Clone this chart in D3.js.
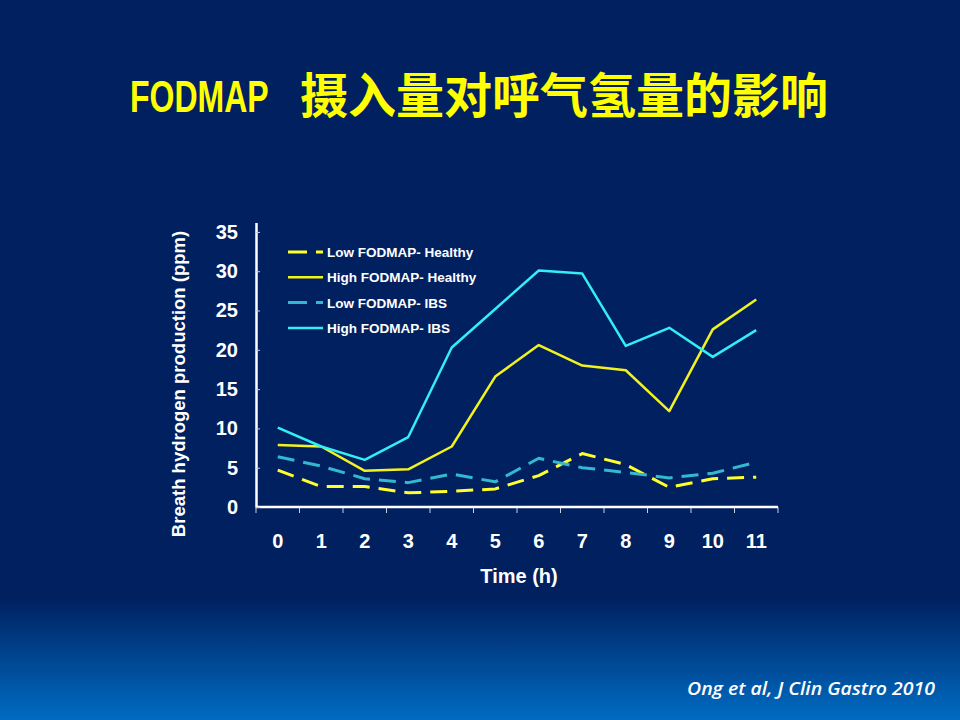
<!DOCTYPE html>
<html>
<head>
<meta charset="utf-8">
<script src="https://cdn.jsdelivr.net/npm/d3@7"></script>
<style>
    body{margin:0;padding:0;background:#002060;}
    svg{display:block;}
</style>
</head>
<body>
<svg id="slide"></svg>
<script>

//hours on the x axis
var hours = [0,1,2,3,4,5,6,7,8,9,10,11];

//breath hydrogen (ppm)
var lowHealthy  = [4.7,2.6,2.6,1.8,2.0,2.3,4.0,6.8,5.4,2.5,3.6,3.8];
var highHealthy = [7.9,7.7,4.6,4.8,7.7,16.6,20.6,18.0,17.4,12.2,22.6,26.4];
var lowIBS      = [6.4,5.2,3.6,3.1,4.2,3.2,6.2,5.0,4.4,3.7,4.3,5.7];
var highIBS     = [10.1,7.7,6.0,8.9,20.3,25.2,30.1,29.7,20.5,22.8,19.1,22.5];

var yTicks = [0,5,10,15,20,25,30,35];

var seriesNames = ["Low FODMAP- Healthy","High FODMAP- Healthy",
                   "Low FODMAP- IBS","High FODMAP- IBS"];

var titleLatin = "FODMAP";
var titleCJK = "摄入量对呼气氢量的影响";
var xTitle = "Time (h)";
var yTitle = "Breath hydrogen production (ppm)";
var citation = "Ong et al, J Clin Gastro 2010";

var series = [
    {name:seriesNames[0], values:lowHealthy,  color:"#ffff2e", dash:"17,9", width:3},
    {name:seriesNames[1], values:highHealthy, color:"#f2f21e", dash:null,   width:2.5},
    {name:seriesNames[2], values:lowIBS,      color:"#33b9cf", dash:"17,9", width:3},
    {name:seriesNames[3], values:highIBS,     color:"#33eef2", dash:null,   width:2.5}
];

var drawSlide = function(target)
{
    var screen = {width:960, height:720};

    var svg = d3.select(target)
        .attr("width",screen.width)
        .attr("height",screen.height);

    //background: navy with a blue fade at the bottom
    var defs = svg.append("defs");
    var grad = defs.append("linearGradient")
        .attr("id","bg")
        .attr("x1",0).attr("y1",0).attr("x2",0).attr("y2",1);
    grad.append("stop").attr("offset","0").attr("stop-color","#002060");
    grad.append("stop").attr("offset","0.83").attr("stop-color","#002060");
    grad.append("stop").attr("offset","1").attr("stop-color","#006cc2");

    svg.append("rect")
        .attr("width",screen.width)
        .attr("height",screen.height)
        .attr("fill","url(#bg)");

    //title: narrow tall latin part, then the chinese part
    svg.append("text")
        .attr("transform","translate(130,112) scale(1,1.38)")
        .attr("fill","#ffff00")
        .style("font-family","'Liberation Sans', Arial, sans-serif")
        .style("font-weight","bold")
        .style("font-size","32px")
        .text(titleLatin);

    svg.append("text")
        .attr("x",300)
        .attr("y",113)
        .attr("fill","#ffff00")
        .style("font-family","'Noto Sans CJK SC', sans-serif")
        .style("font-weight","bold")
        .style("font-size","48px")
        .text(titleCJK);

    //scales
    var xScale = d3.scaleBand()
        .domain(hours)
        .range([256,778])
        .padding(0);

    var yScale = d3.scaleLinear()
        .domain([0,36.2])
        .range([507,222.5]);

    //axes
    var xAxis = d3.axisBottom(xScale)
        .tickSize(0)
        .tickPadding(27);

    var yAxis = d3.axisLeft(yScale)
        .tickValues(yTicks)
        .tickSizeInner(-4)
        .tickSizeOuter(0)
        .tickPadding(18);

    var axes = svg.append("g").classed("axis",true);

    var gx = axes.append("g")
        .attr("id","xAxis")
        .attr("transform","translate(0,507)")
        .call(xAxis);
    gx.select(".domain").remove();

    //tick marks sit on the band edges
    var edges = hours.map(function(h){return xScale(h);});
    edges.push(xScale.range()[1]);
    gx.selectAll(".edge")
        .data(edges)
        .enter()
        .append("line")
        .classed("edge",true)
        .attr("x1",function(d){return d;})
        .attr("x2",function(d){return d;})
        .attr("y1",0)
        .attr("y2",6)
        .attr("stroke","#c8d0e0")
        .attr("stroke-width",1);
    gx.append("line")
        .attr("x1",xScale.range()[0])
        .attr("x2",xScale.range()[1])
        .attr("stroke","#ffffff")
        .attr("stroke-width",2.5);

    var gy = axes.append("g")
        .attr("id","yAxis")
        .attr("transform","translate(256,0)")
        .call(yAxis);

    axes.selectAll(".domain")
        .attr("stroke","#ffffff")
        .attr("stroke-width",2.5);
    axes.selectAll(".tick line")
        .attr("stroke","#c8d0e0");
    axes.selectAll(".tick text")
        .attr("fill","#ffffff")
        .style("font-family","'Liberation Sans', Arial, sans-serif")
        .style("font-weight","bold")
        .style("font-size","20px");

    //axis titles
    svg.append("text")
        .attr("x",519)
        .attr("y",583)
        .attr("text-anchor","middle")
        .attr("fill","#ffffff")
        .style("font-family","'Liberation Sans', Arial, sans-serif")
        .style("font-weight","bold")
        .style("font-size","20px")
        .text(xTitle);

    svg.append("text")
        .attr("transform","translate(185,384) rotate(-90)")
        .attr("text-anchor","middle")
        .attr("fill","#ffffff")
        .style("font-family","'Liberation Sans', Arial, sans-serif")
        .style("font-weight","bold")
        .style("font-size","18.5px")
        .text(yTitle);

    //lines
    var line = d3.line()
        .x(function(d,i){return xScale(hours[i]) + xScale.bandwidth()/2;})
        .y(function(d){return yScale(d);});

    svg.append("g")
        .classed("graph",true)
        .selectAll("path")
        .data(series)
        .enter()
        .append("path")
        .attr("d",function(s){return line(s.values);})
        .attr("fill","none")
        .attr("stroke",function(s){return s.color;})
        .attr("stroke-width",function(s){return s.width;})
        .attr("stroke-dasharray",function(s){return s.dash;})
        .attr("stroke-linejoin","round");

    //legend
    var legend = svg.append("g")
        .classed("legend",true)
        .selectAll("g")
        .data(series)
        .enter()
        .append("g")
        .attr("transform",function(s,i){return "translate(288,"+(252+i*25.3)+")";});

    legend.append("line")
        .attr("x1",0)
        .attr("x2",35)
        .attr("stroke",function(s){return s.color;})
        .attr("stroke-width",function(s){return s.width;})
        .attr("stroke-dasharray",function(s){return s.dash ? "19,9" : null;});

    legend.append("text")
        .attr("x",39)
        .attr("y",5)
        .attr("fill","#ffffff")
        .style("font-family","'Liberation Sans', Arial, sans-serif")
        .style("font-weight","bold")
        .style("font-size","13.5px")
        .text(function(s){return s.name;});

    //reference
    svg.append("text")
        .attr("x",935)
        .attr("y",695)
        .attr("text-anchor","end")
        .attr("textLength",248)
        .attr("lengthAdjust","spacingAndGlyphs")
        .attr("fill","#ffffff")
        .style("font-family","'Open Sans', sans-serif")
        .style("font-style","italic")
        .style("font-weight","600")
        .style("font-size","18px")
        .text(citation);
}

drawSlide("#slide");

</script>
</body>
</html>
